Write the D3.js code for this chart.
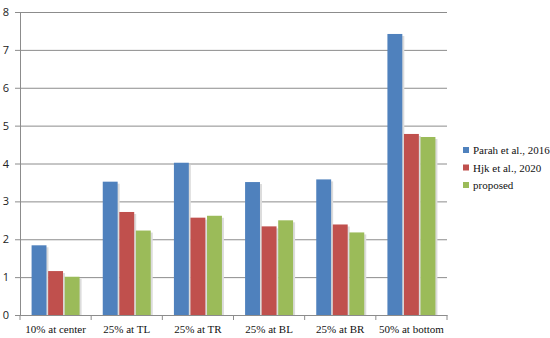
<!DOCTYPE html>
<html>
<head>
<meta charset="utf-8">
<script src="https://cdn.jsdelivr.net/npm/d3@7"></script>
<style>
  body { margin: 0; background: #fff; }
  svg { display: block; }
</style>
</head>
<body>
<div id="chart"></div>
<script>
// chart data
const categories = ["10% at center", "25% at TL", "25% at TR", "25% at BL", "25% at BR", "50% at bottom"];
const seriesNames = ["Parah et al., 2016", "Hjk et al., 2020", "proposed"];
const parah = [1.84, 3.52, 4.02, 3.51, 3.58, 7.42];
const hjk = [1.16, 2.72, 2.57, 2.34, 2.39, 4.78];
const proposed = [1.01, 2.23, 2.62, 2.50, 2.18, 4.70];
const yTicks = [0, 1, 2, 3, 4, 5, 6, 7, 8];

const colors = ["#4F81BD", "#C0504D", "#9BBB59"];
const allSeries = [parah, hjk, proposed];

const width = 550, height = 338;
const margin = { top: 12, right: 103, bottom: 23, left: 20 };
const innerW = width - margin.left - margin.right;
const innerH = height - margin.top - margin.bottom;

const svg = d3.select("#chart").append("svg")
    .attr("width", width)
    .attr("height", height);

const plot = svg.append("g")
    .attr("transform", `translate(${margin.left},${margin.top})`);

// scales
const yScale = d3.scaleLinear()
    .domain([0, 8])
    .range([innerH, 0]);

const xScale = d3.scaleBand()
    .domain(categories)
    .range([0, innerW])
    .paddingInner(0)
    .paddingOuter(0);

const xInner = d3.scaleBand()
    .domain(d3.range(seriesNames.length))
    .range([0, xScale.bandwidth()])
    .paddingInner(0.1)
    .paddingOuter(0.7);

// grid lines
plot.append("g")
    .attr("class", "grid")
    .call(d3.axisLeft(yScale).tickValues(yTicks).tickSize(-innerW).tickFormat(""))
    .call(g => g.select(".domain").remove())
    .call(g => g.selectAll("line").attr("stroke", "#8c8c8c").attr("stroke-width", 1));

// bars
const rows = categories.map((c, i) => ({ name: c, values: allSeries.map(s => s[i]) }));

const groups = plot.selectAll(".group")
    .data(rows)
    .enter()
    .append("g")
    .attr("class", "group")
    .attr("transform", d => `translate(${xScale(d.name)},0)`);

// soft shadow behind bars
groups.selectAll(".shadow")
    .data(d => d.values)
    .enter()
    .append("rect")
    .attr("class", "shadow")
    .attr("x", (d, i) => xInner(i) + 2)
    .attr("y", d => yScale(d) + 2)
    .attr("width", xInner.bandwidth())
    .attr("height", d => innerH - yScale(d) - 2)
    .attr("fill", "#dcdcdc");

groups.selectAll(".bar")
    .data(d => d.values)
    .enter()
    .append("rect")
    .attr("class", "bar")
    .attr("x", (d, i) => xInner(i))
    .attr("y", d => yScale(d))
    .attr("width", xInner.bandwidth())
    .attr("height", d => innerH - yScale(d))
    .attr("fill", (d, i) => colors[i]);

// axes
plot.append("g")
    .call(d3.axisLeft(yScale).tickValues(yTicks).tickSize(5).tickPadding(6).tickFormat(d3.format("d")))
    .call(g => g.select(".domain").attr("stroke", "#8c8c8c"))
    .call(g => g.selectAll("line").attr("stroke", "#8c8c8c"))
    .call(g => g.selectAll("text")
        .attr("fill", "#222")
        .style("font-family", "'Open Sans', 'DejaVu Sans', sans-serif")
        .style("font-size", "11px"));

const xAxis = plot.append("g")
    .attr("transform", `translate(0,${innerH})`)
    .call(d3.axisBottom(xScale).tickSize(0).tickPadding(10))
    .call(g => g.select(".domain").attr("stroke", "#8c8c8c"))
    .call(g => g.selectAll("text")
        .attr("fill", "#111")
        .style("font-family", "'Liberation Serif', serif")
        .style("font-size", "11px"));

// category separator ticks
xAxis.selectAll(".sep")
    .data(d3.range(categories.length + 1))
    .enter()
    .append("line")
    .attr("class", "sep")
    .attr("x1", i => i * xScale.bandwidth())
    .attr("x2", i => i * xScale.bandwidth())
    .attr("y1", 0)
    .attr("y2", 5)
    .attr("stroke", "#8c8c8c");

// legend
const legend = svg.selectAll(".legend")
    .data(seriesNames)
    .enter()
    .append("g")
    .attr("class", "legend")
    .attr("transform", (d, i) => `translate(463,${150 + i * 17.5})`);

legend.append("rect")
    .attr("x", 0)
    .attr("y", -3)
    .attr("width", 6)
    .attr("height", 6)
    .attr("fill", (d, i) => colors[i]);

legend.append("text")
    .attr("x", 10)
    .attr("y", 4)
    .style("font-family", "'Liberation Serif', serif")
    .style("font-size", "11px")
    .attr("fill", "#111")
    .text(d => d);
</script>
</body>
</html>
